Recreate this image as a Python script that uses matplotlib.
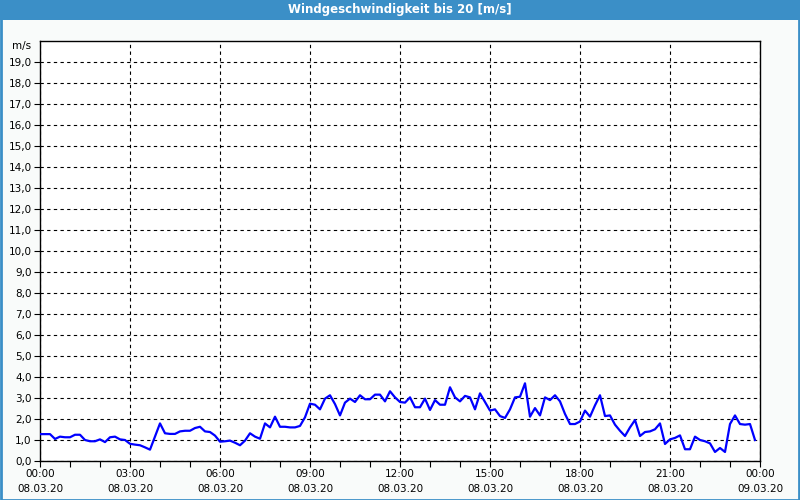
import numpy as np
import pandas as pd
import matplotlib
matplotlib.use("Agg")
import matplotlib.pyplot as plt
import matplotlib.dates as mdates
from matplotlib.patches import Rectangle
from matplotlib.ticker import FixedLocator, FuncFormatter

# Windgeschwindigkeit, 10-Minuten-Werte ab 08.03.20 00:00
titel = "Windgeschwindigkeit bis 20 [m/s]"
start = "2020-03-08 00:00"
ende = "2020-03-09 00:00"
wind = [
    1.28, 1.28, 1.28, 1.05, 1.16, 1.13, 1.13, 1.25, 1.25, 1.00,
    0.94, 0.94, 1.03, 0.90, 1.13, 1.16, 1.03, 1.00, 0.82, 0.78,
    0.75, 0.65, 0.54, 1.17, 1.79, 1.32, 1.29, 1.29, 1.41, 1.44,
    1.44, 1.57, 1.63, 1.41, 1.38, 1.21, 0.92, 0.94, 0.97, 0.87,
    0.75, 0.97, 1.32, 1.16, 1.06, 1.79, 1.60, 2.11, 1.63, 1.63,
    1.60, 1.60, 1.67, 2.08, 2.73, 2.68, 2.46, 2.97, 3.13, 2.71,
    2.17, 2.78, 2.97, 2.81, 3.13, 2.94, 2.94, 3.16, 3.16, 2.84,
    3.32, 3.03, 2.81, 2.78, 3.03, 2.56, 2.56, 2.97, 2.43, 2.90,
    2.68, 2.68, 3.51, 3.03, 2.84, 3.10, 3.03, 2.46, 3.22, 2.81,
    2.40, 2.46, 2.14, 2.05, 2.46, 3.03, 3.06, 3.70, 2.11, 2.52,
    2.17, 3.03, 2.90, 3.13, 2.84, 2.24, 1.76, 1.76, 1.88, 2.40,
    2.11, 2.65, 3.13, 2.14, 2.17, 1.73, 1.44, 1.19, 1.60, 1.95,
    1.19, 1.38, 1.41, 1.51, 1.79, 0.81, 1.03, 1.10, 1.22, 0.56,
    0.56, 1.16, 1.00, 0.94, 0.84, 0.43, 0.62, 0.43, 1.76, 2.17,
    1.76, 1.73, 1.76, 1.00,
]
zeit = pd.date_range(start, periods=len(wind), freq="10min")
y_ticks = list(range(0, 20))

fig = plt.figure(figsize=(8, 5), dpi=100)
fig.patch.set_facecolor("#f9fbfa")

# Titelleiste und Fensterrahmen
blau = "#3b8fc7"
fig.patches.append(Rectangle((0, 0.96), 1, 0.04, transform=fig.transFigure,
                             facecolor=blau, edgecolor="none", zorder=0))
fig.patches.append(Rectangle((0.001, 0.001), 0.998, 0.998, transform=fig.transFigure,
                             facecolor="none", edgecolor=blau, linewidth=2, zorder=5))
fig.text(0.5, 0.98, titel, ha="center", va="center", color="white",
         fontsize=8.5, fontweight="bold")

ax = fig.add_axes([0.05, 0.078, 0.90, 0.840])
ax.set_facecolor("white")
ax.plot(zeit, wind, color="#0000ff", linewidth=1.6, zorder=3)

ax.set_xlim(pd.Timestamp(start), pd.Timestamp(ende))
ax.set_ylim(0, 20)

ax.xaxis.set_major_locator(mdates.HourLocator(byhour=range(0, 24, 3)))
ax.xaxis.set_minor_locator(mdates.HourLocator())
ax.xaxis.set_major_formatter(mdates.DateFormatter("%H:%M\n%d.%m.%y"))
ax.yaxis.set_major_locator(FixedLocator(y_ticks))
ax.yaxis.set_major_formatter(FuncFormatter(lambda v, p: f"{v:.1f}".replace(".", ",")))

ax.grid(True, which="major", color="black", linestyle=(0, (3, 3)), linewidth=0.8)
ax.tick_params(axis="both", which="major", length=4, width=0.8, labelsize=7.5,
               colors="black", pad=2)
ax.tick_params(axis="x", which="minor", length=4, width=0.8)
for lbl in ax.get_xticklabels():
    lbl.set_linespacing(1.6)
for s in ax.spines.values():
    s.set_color("black")
    s.set_linewidth(1.0)

ax.text(-0.012, 0.988, "m/s", transform=ax.transAxes, ha="right", va="center",
        fontsize=7.5)

fig.savefig("out.png", dpi=100, facecolor=fig.get_facecolor())
